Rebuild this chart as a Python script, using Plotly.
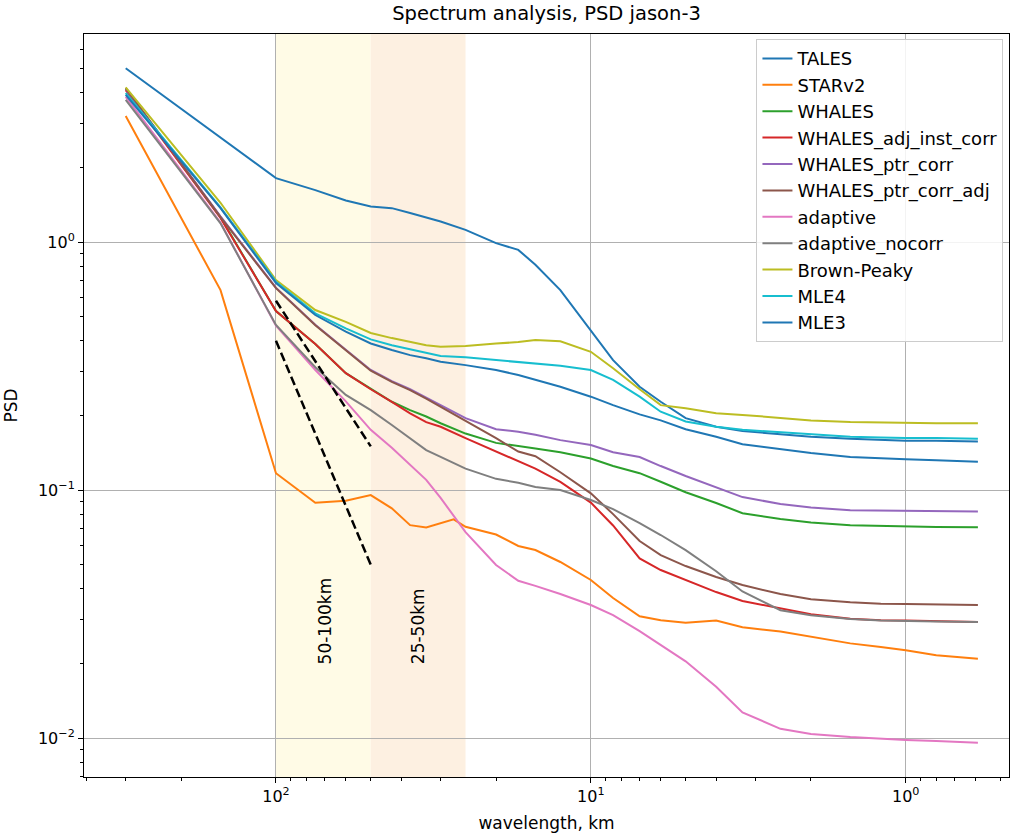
import numpy as np
import plotly.graph_objects as go

# ---------------- data ----------------
WL = [300, 150, 100, 75, 60, 50, 42.86, 37.5, 33.33, 30, 25, 20, 17, 15, 12.5,
      10, 8.5, 7, 6, 5, 4, 3.3, 2.5, 2, 1.5, 1.2, 1.0, 0.8, 0.59]

WL_STAR = [300, 150, 100, 75, 60, 50, 42.86, 37.5, 33.33, 30, 27.27, 25, 20, 17, 15,
           12.5, 10, 8.5, 7, 6, 5, 4, 3.3, 2.5, 2, 1.5, 1.2, 1.0, 0.8, 0.59]

TALES = [5.02, 2.63, 1.81, 1.62, 1.47, 1.39, 1.37, 1.31, 1.26, 1.21, 1.12, 0.99, 0.93,
         0.81, 0.64, 0.44, 0.334, 0.261, 0.227, 0.195, 0.180, 0.173, 0.168, 0.164,
         0.161, 0.159, 0.158, 0.158, 0.157]
STARv2 = [3.22, 0.64, 0.117, 0.0889, 0.0906, 0.0955, 0.0844, 0.0722, 0.0707, 0.0736,
          0.0762, 0.0711, 0.0662, 0.0595, 0.0573, 0.0513, 0.0434, 0.0367, 0.0310,
          0.0299, 0.0292, 0.0298, 0.0280, 0.0269, 0.0256, 0.0241, 0.0233, 0.0226,
          0.0216, 0.0209]
WHALES = [4.14, 1.26, 0.527, 0.388, 0.296, 0.256, 0.227, 0.210, 0.198, 0.186, 0.169,
          0.155, 0.150, 0.147, 0.142, 0.134, 0.125, 0.117, 0.108, 0.098, 0.0887,
          0.0807, 0.0764, 0.0740, 0.0722, 0.0716, 0.0711, 0.0710, 0.0708]
WHALES_adj_inst_corr = [4.10, 1.25, 0.527, 0.388, 0.296, 0.255, 0.227, 0.204, 0.188,
                        0.180, 0.162, 0.143, 0.130, 0.122, 0.108, 0.089, 0.072, 0.053,
                        0.0476, 0.0434, 0.0388, 0.0357, 0.0334, 0.0316, 0.0303, 0.0299,
                        0.0298, 0.0296, 0.0294]
WHALES_ptr_corr = [4.16, 1.27, 0.655, 0.464, 0.368, 0.305, 0.275, 0.255, 0.236, 0.220,
                   0.195, 0.176, 0.172, 0.167, 0.159, 0.152, 0.142, 0.136, 0.125, 0.114,
                   0.103, 0.0937, 0.0879, 0.0850, 0.0830, 0.0827, 0.0823, 0.0823, 0.082]
WHALES_ptr_corr_adj = [4.18, 1.26, 0.652, 0.462, 0.366, 0.303, 0.273, 0.253, 0.234,
                       0.217, 0.191, 0.162, 0.143, 0.137, 0.118, 0.097, 0.080, 0.0623,
                       0.0547, 0.0494, 0.0446, 0.0414, 0.0381, 0.0363, 0.0353, 0.0348,
                       0.0347, 0.0345, 0.0344]
adaptive = [3.85, 1.20, 0.46, 0.305, 0.228, 0.175, 0.148, 0.126, 0.110, 0.093, 0.0677,
            0.0499, 0.0431, 0.0411, 0.0381, 0.0344, 0.0313, 0.0270, 0.0237, 0.0204,
            0.0161, 0.0127, 0.0109, 0.0104, 0.0101, 0.00991, 0.00982, 0.00973, 0.00958]
adaptive_nocorr = [3.74, 1.19, 0.463, 0.313, 0.242, 0.210, 0.183, 0.162, 0.145, 0.136,
                   0.122, 0.111, 0.107, 0.103, 0.100, 0.0912, 0.0838, 0.0736, 0.0659,
                   0.0573, 0.0471, 0.039, 0.0328, 0.0313, 0.0302, 0.0298, 0.0296,
                   0.0295, 0.0294]
Brown_Peaky = [4.20, 1.44, 0.703, 0.532, 0.477, 0.430, 0.410, 0.396, 0.384, 0.378,
               0.381, 0.390, 0.395, 0.403, 0.398, 0.361, 0.310, 0.255, 0.220, 0.214,
               0.204, 0.201, 0.195, 0.191, 0.188, 0.187, 0.186, 0.186, 0.186]
MLE4 = [3.99, 1.38, 0.692, 0.516, 0.449, 0.405, 0.384, 0.369, 0.358, 0.347, 0.343, 0.334,
        0.329, 0.324, 0.317, 0.305, 0.278, 0.238, 0.207, 0.189, 0.180, 0.175, 0.171,
        0.168, 0.164, 0.163, 0.162, 0.162, 0.161]
MLE3 = [3.92, 1.37, 0.684, 0.508, 0.435, 0.390, 0.367, 0.350, 0.340, 0.329, 0.319, 0.305,
        0.291, 0.278, 0.261, 0.238, 0.220, 0.202, 0.191, 0.176, 0.164, 0.153, 0.146,
        0.141, 0.136, 0.134, 0.133, 0.132, 0.130]

# reference slopes (dashed)
DASH1_WL = [100, 50]
DASH1_PSD = [0.58, 0.15]
DASH2_WL = [100, 50]
DASH2_PSD = [0.40, 0.05]

SERIES = [
    ("TALES", WL, TALES, "#1f77b4"),
    ("STARv2", WL_STAR, STARv2, "#ff7f0e"),
    ("WHALES", WL, WHALES, "#2ca02c"),
    ("WHALES_adj_inst_corr", WL, WHALES_adj_inst_corr, "#d62728"),
    ("WHALES_ptr_corr", WL, WHALES_ptr_corr, "#9467bd"),
    ("WHALES_ptr_corr_adj", WL, WHALES_ptr_corr_adj, "#8c564b"),
    ("adaptive", WL, adaptive, "#e377c2"),
    ("adaptive_nocorr", WL, adaptive_nocorr, "#7f7f7f"),
    ("Brown-Peaky", WL, Brown_Peaky, "#bcbd22"),
    ("MLE4", WL, MLE4, "#17becf"),
    ("MLE3", WL, MLE3, "#1f77b4"),
]

X_TICKS = [100, 10, 1]
X_TICKTEXT = ["10<sup>2</sup>", "10<sup>1</sup>", "10<sup>0</sup>"]
Y_TICKS = [0.01, 0.1, 1]
Y_TICKTEXT = ["10<sup>\u22122</sup>", "10<sup>\u22121</sup>", "10<sup>0</sup>"]

# ---------------- figure ----------------
fig = go.Figure()

for name, x, y, c in SERIES:
    fig.add_trace(go.Scatter(x=x, y=y, mode="lines", name=name,
                             line=dict(color=c, width=2)))

for dx, dy in [(DASH1_WL, DASH1_PSD), (DASH2_WL, DASH2_PSD)]:
    fig.add_trace(go.Scatter(x=dx, y=dy, mode="lines", showlegend=False,
                             line=dict(color="black", width=2.5, dash="9px,4px")))

# shaded wavelength bands
fig.add_shape(type="rect", xref="x", yref="paper", x0=100, x1=50, y0=0, y1=1,
              fillcolor="#fffbe6", line_width=0, layer="below")
fig.add_shape(type="rect", xref="x", yref="paper", x0=50, x1=25, y0=0, y1=1,
              fillcolor="#fdf0e1", line_width=0, layer="below")

fig.add_annotation(x=np.log10(70), y=np.log10(0.0195), text="50-100km", textangle=-90,
                   showarrow=False, xanchor="center", yanchor="bottom",
                   font=dict(size=17, color="black"))
fig.add_annotation(x=np.log10(35.4), y=np.log10(0.0195), text="25-50km", textangle=-90,
                   showarrow=False, xanchor="center", yanchor="bottom",
                   font=dict(size=17, color="black"))

minor_x = [m * 10 ** k for k in (-1, 0, 1, 2) for m in range(2, 10)]
minor_y = [m * 10 ** k for k in (-3, -2, -1, 0) for m in range(2, 10)]

axis_common = dict(showline=True, linecolor="black", linewidth=1, mirror=True,
                   ticks="outside", ticklen=5, tickwidth=1, tickcolor="black",
                   showgrid=True, gridcolor="#b0b0b0", gridwidth=1, zeroline=False,
                   automargin=False, tickfont=dict(size=16, color="black"))

fig.update_xaxes(type="log", range=[np.log10(407), np.log10(0.47)],
                 tickvals=X_TICKS, ticktext=X_TICKTEXT,
                 minor=dict(tickvals=minor_x, ticks="outside", ticklen=3,
                            tickcolor="black", showgrid=False),
                 title=dict(text="wavelength, km", font=dict(size=17)),
                 **axis_common)
fig.update_yaxes(type="log", range=[np.log10(0.00697), np.log10(6.9)],
                 tickvals=Y_TICKS, ticktext=Y_TICKTEXT,
                 minor=dict(tickvals=minor_y, ticks="outside", ticklen=3,
                            tickcolor="black", showgrid=False),
                 title=dict(text="PSD", font=dict(size=17)),
                 **axis_common)

fig.update_layout(
    width=1010, height=833,
    margin=dict(l=84, r=1, t=34, b=56),
    paper_bgcolor="white", plot_bgcolor="white",
    font=dict(family="DejaVu Sans", size=16, color="black"),
    title=dict(text="Spectrum analysis, PSD jason-3", x=0.5, xref="paper",
               xanchor="center", y=1 - 13 / 833, yanchor="middle",
               font=dict(size=19.5)),
    legend=dict(x=0.994, y=0.993, xanchor="right", yanchor="top",
                bgcolor="rgba(255,255,255,0.85)", bordercolor="#cccccc",
                borderwidth=1, font=dict(size=18)),
    showlegend=True,
)

fig.write_html("out.html", config={"displayModeBar": False},
               post_script="document.body.style.margin='0';document.body.style.overflow='hidden';")
